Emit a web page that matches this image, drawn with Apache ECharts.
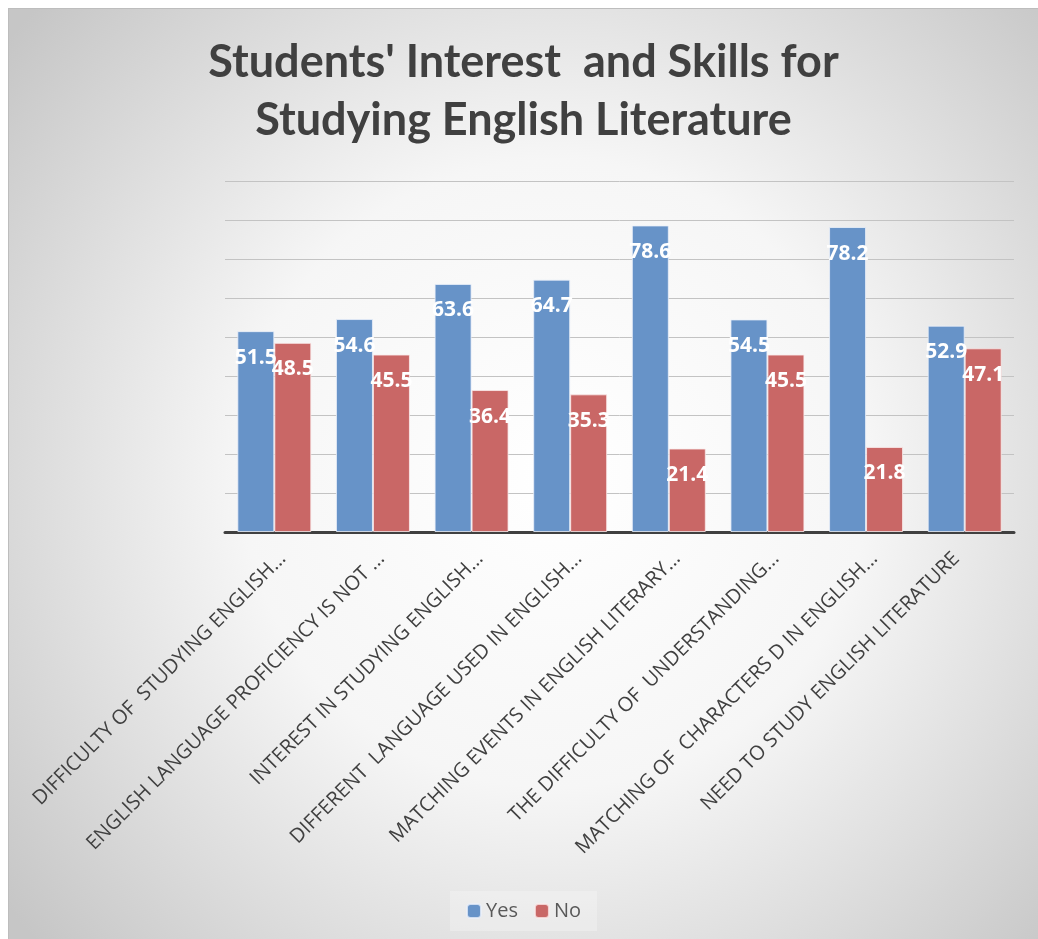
<!DOCTYPE html>
<html>
<head>
<meta charset="utf-8">
<script src="https://cdn.jsdelivr.net/npm/echarts@6/dist/echarts.min.js"></script>
<style>
html,body{margin:0;padding:0;background:#ffffff;}
#wrap{position:relative;width:1038px;height:939px;background:#fff;overflow:hidden;}
#chart{position:absolute;left:8px;top:8px;width:1030px;height:931px;border-top:1px solid #bdbdbd;border-left:1px solid #bdbdbd;box-sizing:border-box;}
</style>
</head>
<body>
<div id="wrap"><div id="chart"></div></div>
<script>
const categories = [
  "DIFFICULTY OF  STUDYING ENGLISH...",
  "ENGLISH LANGUAGE PROFICIENCY IS NOT ...",
  "INTEREST IN STUDYING ENGLISH...",
  "DIFFERENT  LANGUAGE USED IN ENGLISH...",
  "MATCHING EVENTS IN ENGLISH LITERARY...",
  "THE DIFFICULTY OF  UNDERSTANDING...",
  "MATCHING OF  CHARACTERS D IN ENGLISH...",
  "NEED TO STUDY ENGLISH LITERATURE"
];
const yesValues = [51.5, 54.6, 63.6, 64.7, 78.6, 54.5, 78.2, 52.9];
const noValues = [48.5, 45.5, 36.4, 35.3, 21.4, 45.5, 21.8, 47.1];
const seriesNames = ["Yes", "No"];
const titleText = "Students' Interest  and Skills for\nStudying English Literature";

const chart = echarts.init(document.getElementById('chart'), null, {renderer: 'canvas'});
const labelStyle = {
  show: true,
  position: 'insideTop',
  distance: 16,
  color: '#ffffff',
  fontFamily: 'Open Sans',
  fontWeight: 'bold',
  fontSize: 21
};
// the last (untruncated) label sits a little lower-left, as in the original
const categoryItems = categories.map((c, i) =>
  i === categories.length - 1 ? {value: c, textStyle: {padding: [6, 12, 0, 0]}} : c
);
chart.setOption({
  backgroundColor: {
    type: 'radial', x: 0.53, y: 0.5, r: 0.75,
    colorStops: [
      {offset: 0, color: '#ffffff'},
      {offset: 0.45, color: '#f6f6f6'},
      {offset: 1, color: '#c6c6c6'}
    ]
  },
  title: {
    text: titleText,
    left: 'center',
    top: 19,
    textStyle: {
      fontFamily: 'Lato',
      fontWeight: 'bold',
      fontSize: 45,
      lineHeight: 58,
      color: '#404040'
    }
  },
  legend: {
    data: seriesNames,
    bottom: 8,
    left: 'center',
    itemWidth: 14,
    itemHeight: 14,
    itemGap: 16,
    padding: [10, 16],
    backgroundColor: 'rgba(255,255,255,0.25)',
    textStyle: {fontFamily: 'Open Sans', fontSize: 20, color: '#595959'}
  },
  grid: {left: 216, right: 24, top: 172, bottom: 407, containLabel: false},
  xAxis: {
    type: 'category',
    data: categoryItems,
    axisLine: {show: true, lineStyle: {color: '#404040', width: 3}},
    axisTick: {show: false},
    axisLabel: {
      interval: 0,
      rotate: 45,
      margin: 15,
      verticalAlign: 'top',
      padding: [2, 0, 0, 0],
      fontFamily: 'Open Sans',
      fontSize: 20,
      color: '#404040'
    }
  },
  yAxis: {
    type: 'value',
    min: 0, max: 90, interval: 10,
    axisLine: {show: false},
    axisTick: {show: false},
    axisLabel: {show: false},
    splitLine: {show: true, lineStyle: {color: '#c3c3c3', width: 1}}
  },
  series: [
    {
      name: seriesNames[0], type: 'bar', data: yesValues,
      barGap: '0%', barCategoryGap: '25%',
      itemStyle: {color: '#6793c8', borderColor: 'rgba(235,240,250,0.8)', borderWidth: 1},
      label: labelStyle
    },
    {
      name: seriesNames[1], type: 'bar', data: noValues,
      barGap: '0%', barCategoryGap: '25%',
      itemStyle: {color: '#c96766', borderColor: 'rgba(250,235,235,0.8)', borderWidth: 1},
      label: labelStyle
    }
  ]
});
</script>
</body>
</html>
